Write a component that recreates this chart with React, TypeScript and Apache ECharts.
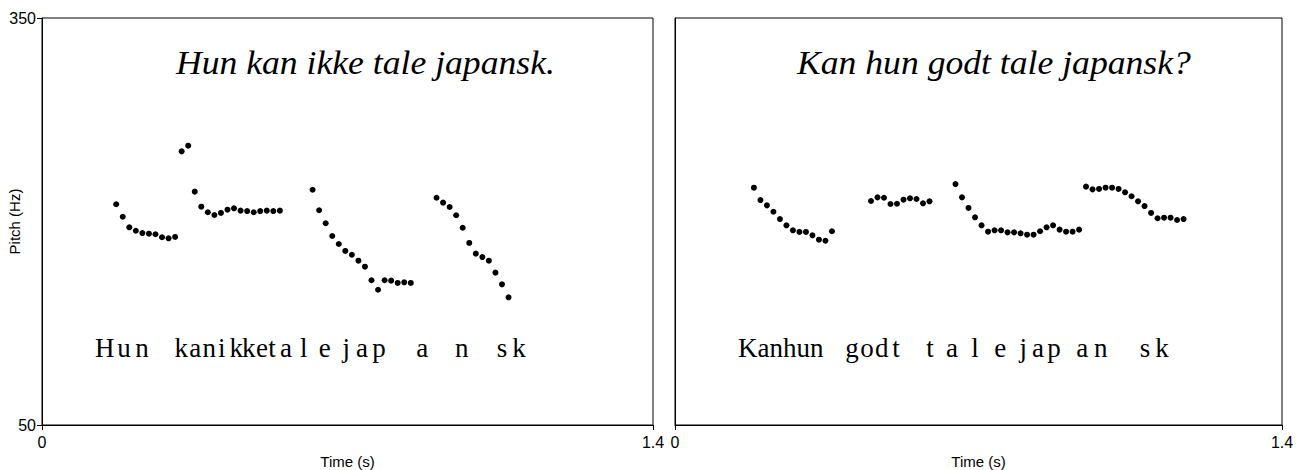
import React, { useEffect, useRef } from "react";
import * as echarts from "echarts";

// ---- Left panel: "Hun kan ikke tale japansk." ----
const leftTitle = "Hun kan ikke tale japansk.";
const leftA_t = [0.170, 0.185, 0.200, 0.215, 0.230, 0.245, 0.260, 0.275, 0.290, 0.305];
const leftA_hz = [212.7, 203.5, 195.7, 193.2, 191.5, 191.0, 190.6, 188.4, 187.6, 188.6];
const leftB_t = [0.320, 0.335, 0.350, 0.365, 0.380, 0.395, 0.410, 0.425, 0.440, 0.455, 0.470, 0.485, 0.500, 0.515, 0.530, 0.545];
const leftB_hz = [251.7, 255.9, 222.0, 210.9, 206.8, 204.8, 206.3, 208.7, 209.7, 208.0, 207.7, 206.8, 207.7, 208.0, 207.7, 208.0];
const leftC_t = [0.620, 0.635, 0.650, 0.665, 0.680, 0.695, 0.710, 0.725, 0.740, 0.755, 0.770, 0.785, 0.800, 0.815, 0.830, 0.845];
const leftC_hz = [223.4, 208.3, 198.7, 189.3, 183.4, 178.3, 175.5, 171.1, 166.7, 156.7, 149.7, 156.7, 156.4, 154.7, 155.2, 154.7];
const leftD_t = [0.904, 0.919, 0.934, 0.949, 0.964, 0.979, 0.994, 1.009, 1.024, 1.039, 1.054, 1.069];
const leftD_hz = [217.5, 213.9, 210.7, 204.6, 195.4, 184.2, 176.3, 173.8, 171.1, 162.3, 153.7, 144.1];
const leftLetters = ["H", "u", "n", "k", "a", "n", "i", "k", "k", "e", "t", "a", "l", "e", "j", "a", "p", "a", "n", "s", "k"];
const leftLetterT = [0.144, 0.188, 0.229, 0.319, 0.351, 0.383, 0.412, 0.445, 0.474, 0.504, 0.527, 0.559, 0.600, 0.648, 0.697, 0.733, 0.772, 0.871, 0.962, 1.054, 1.093];

// ---- Right panel: "Kan hun godt tale japansk?" ----
const rightTitle = "Kan hun godt tale japansk?";
const rightA_t = [0.182, 0.197, 0.212, 0.227, 0.242, 0.257, 0.272, 0.287, 0.302, 0.317, 0.332, 0.347, 0.362];
const rightA_hz = [224.9, 215.8, 211.9, 207.2, 201.8, 197.2, 193.5, 192.3, 192.3, 189.8, 186.6, 185.8, 192.8];
const rightB_t = [0.452, 0.467, 0.482, 0.497, 0.512, 0.527, 0.542, 0.557, 0.572, 0.587];
const rightB_hz = [215.1, 217.8, 217.5, 212.9, 213.1, 216.1, 217.1, 216.6, 213.4, 214.9];
const rightC_t = [0.647, 0.662, 0.677, 0.692, 0.707, 0.722, 0.737, 0.752, 0.767, 0.782, 0.797, 0.812, 0.827, 0.842, 0.857, 0.872, 0.887, 0.902, 0.917, 0.932];
const rightC_hz = [227.6, 217.8, 210.0, 203.1, 197.2, 192.5, 193.5, 193.5, 192.0, 192.0, 191.3, 190.3, 190.3, 192.8, 195.7, 197.2, 194.0, 192.5, 192.5, 194.0];
const rightD_t = [0.948, 0.963, 0.978, 0.993, 1.008, 1.023, 1.038, 1.053, 1.068, 1.083, 1.098, 1.113, 1.128, 1.143, 1.158, 1.173];
const rightD_hz = [225.7, 223.7, 224.0, 224.9, 224.9, 224.0, 221.5, 218.6, 214.9, 211.4, 206.3, 202.4, 202.8, 202.8, 201.1, 201.8];
const rightLetters = ["Kanhun", "g", "o", "d", "t", "t", "a", "l", "e", "j", "a", "p", "a", "n", "s", "k"];
const rightLetterT = [0.244, 0.408, 0.443, 0.477, 0.510, 0.588, 0.639, 0.692, 0.750, 0.803, 0.837, 0.874, 0.939, 0.982, 1.084, 1.123];

// ---- Axes ----
const timeMin = 0;
const timeMax = 1.4;
const pitchMin = 50;
const pitchMax = 350;
const letterHz = 107;

const zip = (t: number[], v: number[]) => t.map((x, i) => [x, v[i]]);

export default function App() {
  const ref = useRef<HTMLDivElement>(null);
  useEffect(() => {
    if (!ref.current) return;
    const chart = echarts.init(ref.current, null, { renderer: "svg" });
    const serif = "Liberation Serif";
    const sans = "Liberation Sans";
    const dotSeries = (data: number[][], idx: number) => ({
      type: "scatter",
      xAxisIndex: idx,
      yAxisIndex: idx,
      data,
      symbol: "circle",
      symbolSize: 6,
      itemStyle: { color: "#000", opacity: 1 },
      silent: true,
    });
    const letterSeries = (letters: string[], times: number[], idx: number) => ({
      type: "scatter",
      xAxisIndex: idx,
      yAxisIndex: idx,
      data: letters.map((l, i) => [times[i], letterHz, l]),
      symbolSize: 0,
      silent: true,
      itemStyle: { opacity: 1 },
      label: {
        show: true,
        position: "inside",
        formatter: (p: any) => p.data[2],
        color: "#000",
        opacity: 1,
        fontFamily: serif,
        fontSize: 27,
      },
    });
    const xAxis = (idx: number) => ({
      type: "value",
      gridIndex: idx,
      min: timeMin,
      max: timeMax,
      interval: 1.4,
      name: "Time (s)",
      nameLocation: "middle",
      nameGap: 29,
      nameMoveOverlap: false,
      nameTextStyle: { fontFamily: sans, fontSize: 15, color: "#000" },
      axisLine: { show: true, lineStyle: { color: "#000", width: 1 } },
      axisTick: { show: true, length: 5, lineStyle: { color: "#000" } },
      axisLabel: { show: true, fontFamily: sans, fontSize: 16, color: "#000", margin: 9 },
      splitLine: { show: false },
    });
    const option: any = {
      animation: false,
      backgroundColor: "#fff",
      grid: [
        { left: 42, top: 18, width: 611, height: 407, show: true, borderColor: "#000", borderWidth: 1, containLabel: false, outerBoundsMode: "none" },
        { left: 675, top: 18, width: 607, height: 407, show: true, borderColor: "#000", borderWidth: 1, containLabel: false, outerBoundsMode: "none" },
      ],
      xAxis: [xAxis(0), xAxis(1)],
      yAxis: [
        {
          type: "value",
          gridIndex: 0,
          min: pitchMin,
          max: pitchMax,
          name: "Pitch (Hz)",
          nameLocation: "middle",
          nameGap: 20,
          nameMoveOverlap: false,
          nameTextStyle: { fontFamily: sans, fontSize: 15, color: "#000" },
          axisLine: { show: true, lineStyle: { color: "#000", width: 1 } },
          axisTick: { show: true, length: 5, lineStyle: { color: "#000" }, customValues: [pitchMin, pitchMax] },
          axisLabel: { show: true, fontFamily: sans, fontSize: 16, color: "#000", margin: 6, customValues: [pitchMin, pitchMax] },
          splitLine: { show: false },
        },
        {
          type: "value",
          gridIndex: 1,
          min: pitchMin,
          max: pitchMax,
          axisLine: { show: true, lineStyle: { color: "#000", width: 1 } },
          axisTick: { show: false },
          axisLabel: { show: false },
          splitLine: { show: false },
        },
      ],
      graphic: [
        {
          type: "text",
          x: 176,
          y: 62,
          scaleX: 1.08,
          style: { text: leftTitle, font: `italic 33px '${serif}'`, fill: "#000", verticalAlign: "middle" },
        },
        {
          type: "text",
          x: 797,
          y: 62,
          scaleX: 1.08,
          style: { text: rightTitle, font: `italic 33px '${serif}'`, fill: "#000", verticalAlign: "middle" },
        },
      ],
      series: [
        dotSeries(zip(leftA_t, leftA_hz), 0),
        dotSeries(zip(leftB_t, leftB_hz), 0),
        dotSeries(zip(leftC_t, leftC_hz), 0),
        dotSeries(zip(leftD_t, leftD_hz), 0),
        dotSeries(zip(rightA_t, rightA_hz), 1),
        dotSeries(zip(rightB_t, rightB_hz), 1),
        dotSeries(zip(rightC_t, rightC_hz), 1),
        dotSeries(zip(rightD_t, rightD_hz), 1),
        letterSeries(leftLetters, leftLetterT, 0),
        letterSeries(rightLetters, rightLetterT, 1),
      ],
    };
    chart.setOption(option);
    return () => chart.dispose();
  }, []);
  return (
    <div
      ref={ref}
      style={{ position: "fixed", left: 0, top: 0, width: 1307, height: 470 }}
    />
  );
}
